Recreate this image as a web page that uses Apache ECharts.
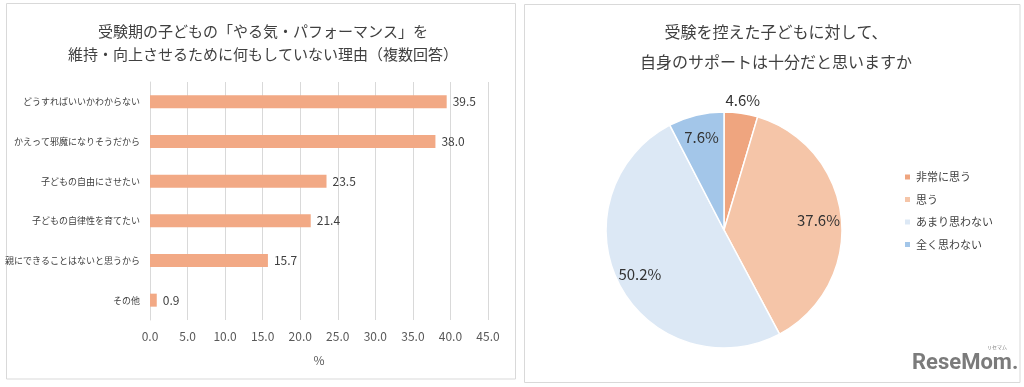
<!DOCTYPE html>
<html>
<head>
<meta charset="utf-8">
<script src="https://cdn.jsdelivr.net/npm/echarts@6/dist/echarts.min.js"></script>
<style>html,body{margin:0;padding:0;background:#fff}#c{width:1024px;height:387px}</style>
</head>
<body>
<div id="c"></div>
<script>
const barCategories = ['どうすればいいかわからない','かえって邪魔になりそうだから','子どもの自由にさせたい','子どもの自律性を育てたい','親にできることはないと思うから','その他'];
const barValues = [39.5, 38.0, 23.5, 21.4, 15.7, 0.9];
const xTicks = {min: 0, max: 45, interval: 5};
const pieNames = ['非常に思う','思う','あまり思わない','全く思わない'];
const pieValues = [4.6, 37.6, 50.2, 7.6];
const pieColors = ['#EFA57F','#F5C5A8','#DCE8F5','#A3C6E9'];

const FONT = '"Noto Sans CJK JP", "Noto Sans", sans-serif';
const chart = echarts.init(document.getElementById('c'));

const pieData = pieNames.map((n,i)=>({name:n, value:pieValues[i], itemStyle:{color:pieColors[i]}}));
const transparentData = (showIdx) => pieNames.map((n,i)=>({
  name:n, value:pieValues[i],
  itemStyle:{color:'rgba(0,0,0,0)', borderWidth:0},
  label:{show: showIdx.includes(i)}
}));
const labelStyle = {position:'inside', formatter: p => p.value.toFixed(1)+'%', color:'#333', fontSize:15, fontFamily:FONT};

chart.setOption({
  animation:false,
  graphic:[
    {type:'rect', shape:{x:6.5, y:3.5, width:509, height:375.5}, style:{fill:'none', stroke:'#D9D9D9', lineWidth:1}, z:-1},
    {type:'rect', shape:{x:524.5, y:4.5, width:495.5, height:378}, style:{fill:'none', stroke:'#D9D9D9', lineWidth:1}, z:-1},
    {type:'text', left:912, top:352, style:{text:'ReseMom.', fill:'#7b7b7b', font:'bold 22px Roboto, "DejaVu Sans", sans-serif'}},
    {type:'text', left:987, top:345, style:{text:'リセマム', fill:'#7b7b7b', font:'5px "Noto Sans CJK JP"'}}
  ],
  title:[
    {text:'受験期の子どもの「やる気・パフォーマンス」を\n維持・向上させるために何もしていない理由（複数回答）',
     left:258, top:15, textAlign:'center',
     textStyle:{fontSize:15, fontWeight:'normal', color:'#404040', fontFamily:FONT, lineHeight:23}},
    {text:'受験を控えた子どもに対して、\n自身のサポートは十分だと思いますか',
     left:771, top:12, textAlign:'center',
     textStyle:{fontSize:16, fontWeight:'normal', color:'#404040', fontFamily:FONT, lineHeight:30}}
  ],
  legend:{
    orient:'vertical', left:898, top:165, icon:'rect', itemWidth:7, itemHeight:7, itemGap:8.5,
    selectedMode:false,
    textStyle:{fontSize:11, color:'#404040', fontFamily:FONT, lineHeight:14},
    data: pieNames.map((n,i)=>({name:n, itemStyle:{color:pieColors[i]}}))
  },
  grid:{left:150, right:536, top:82, bottom:67, outerBoundsMode:'none', containLabel:false},
  xAxis:{
    type:'value', min:xTicks.min, max:xTicks.max, interval:xTicks.interval,
    name:'%', nameLocation:'middle', nameGap:34,
    nameTextStyle:{fontSize:12, color:'#595959', fontFamily:FONT},
    axisLine:{show:false}, axisTick:{show:false},
    axisLabel:{formatter:v=>v.toFixed(1), fontSize:12, color:'#595959', fontFamily:FONT, margin:10},
    splitLine:{lineStyle:{color:'#D9D9D9'}}
  },
  yAxis:{
    type:'category', inverse:true, data:barCategories,
    axisLine:{show:true, lineStyle:{color:'#D9D9D9'}}, axisTick:{show:false},
    axisLabel:{fontSize:9, color:'#404040', fontFamily:FONT, margin:10}
  },
  series:[
    {type:'bar', data:barValues, barWidth:13,
     itemStyle:{color:'#F2A985'},
     label:{show:true, position:'right', distance:6, formatter:p=>p.value.toFixed(1), fontSize:12, color:'#404040', fontFamily:FONT},
     silent:true},
    {type:'pie', name:'main', center:[724,230], radius:[0,118], startAngle:90, clockwise:true,
     data:pieData, label:{show:false}, labelLine:{show:false},
     itemStyle:{borderColor:'#fff', borderWidth:1.5}, silent:true, emphasis:{disabled:true}},
    {type:'pie', name:'lblA', center:[724,230], radius:[0,184], startAngle:90, clockwise:true,
     data:transparentData([1,2,3]), label:labelStyle, labelLine:{show:false},
     silent:true, emphasis:{disabled:true}, legendHoverLink:false},
    {type:'pie', name:'lblB', center:[724,230], radius:[0,256], startAngle:90, clockwise:true,
     data:transparentData([0]), label:labelStyle, labelLine:{show:false},
     silent:true, emphasis:{disabled:true}, legendHoverLink:false}
  ]
});
</script>
</body>
</html>
